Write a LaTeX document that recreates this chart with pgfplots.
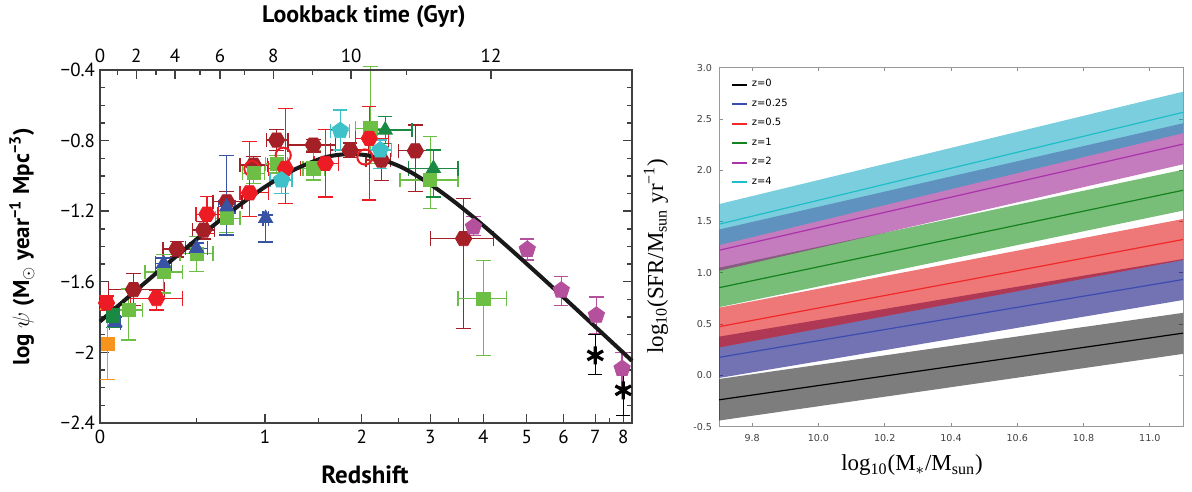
\documentclass[border=0pt]{standalone}
\usepackage{pgfplots}
\pgfplotsset{compat=1.18}
\usepackage{fontspec}
\setmainfont{PT Sans}
\newfontfamily\rsans{DejaVu Sans}
\newfontfamily\rserif{Liberation Serif}

\definecolor{dred}{HTML}{A52026}
\definecolor{mred}{HTML}{ED1C24}
\definecolor{lgreen}{HTML}{6CBE45}
\definecolor{dgreen}{HTML}{1A8943}
\definecolor{mblue}{HTML}{3953A4}
\definecolor{mcyan}{HTML}{3EC1C9}
\definecolor{mmag}{HTML}{B5509D}
\definecolor{morange}{HTML}{F7941D}
% band base colours (drawn with opacity)
\definecolor{bk}{RGB}{18,18,18}
\definecolor{bb}{RGB}{0,0,118}
\definecolor{br}{RGB}{224,9,9}
\definecolor{bg}{RGB}{9,136,9}
\definecolor{bm}{RGB}{147,16,136}
\definecolor{bc}{RGB}{15,165,195}

\pgfdeclareplotmark{hexagon*}{%
  \pgfpathmoveto{\pgfpointpolar{0}{\pgfplotmarksize}}%
  \pgfpathlineto{\pgfpointpolar{60}{\pgfplotmarksize}}%
  \pgfpathlineto{\pgfpointpolar{120}{\pgfplotmarksize}}%
  \pgfpathlineto{\pgfpointpolar{180}{\pgfplotmarksize}}%
  \pgfpathlineto{\pgfpointpolar{240}{\pgfplotmarksize}}%
  \pgfpathlineto{\pgfpointpolar{300}{\pgfplotmarksize}}%
  \pgfpathclose
  \pgfusepathqfillstroke}

\pgfplotsset{
  ebxy/.style={only marks,
    error bars/x dir=both, error bars/x explicit,
    error bars/y dir=both, error bars/y explicit,
    error bars/error bar style={line width=0.65bp},
    error bars/error mark options={rotate=90,mark size=3.6bp,line width=0.65bp}},
  eby/.style={only marks,
    error bars/y dir=both, error bars/y explicit,
    error bars/error bar style={line width=0.65bp},
    error bars/error mark options={rotate=90,mark size=3.6bp,line width=0.65bp}},
}

\begin{document}
\begin{tikzpicture}
\useasboundingbox (0,0) rectangle (596bp,246bp);

% ---------------- left panel ----------------
\begin{axis}[
  at={(50bp,34.5bp)}, anchor=south west, scale only axis,
  width=266bp, height=176.5bp,
  xmin=0, xmax=0.97, ymin=-2.4, ymax=-0.4,
  clip=false,
  xtick={0,0.30103,0.47712,0.60206,0.69897,0.77815,0.84510,0.90309,0.95424},
  xticklabels={0,1,2,3,4,5,6,7,8},
  minor xtick={0.17609,0.39794,0.54407,0.65321,0.92942},
  xtick pos=bottom,
  ytick={-2.4,-2,-1.6,-1.2,-0.8,-0.4},
  yticklabels={−2.4,−2,−1.6,−1.2,−0.8,−0.4},
  minor y tick num=3,
  tick align=inside,
  major tick length=4.5bp, minor tick length=2.5bp,
  every tick/.style={black!75, line width=0.7bp},
  axis line style={black!75, line width=0.8bp},
  tick label style={font=\fontsize{9.5}{10}\selectfont},
  yticklabel style={xshift=1bp},
  xlabel={Redshift},
  xlabel style={font=\bfseries\fontsize{12.5}{13}\selectfont, at={(axis description cs:0.498,-0.147)}, anchor=center},
  ylabel={log $\psi$ (M$_{\odot}$ year\textsuperscript{−1} Mpc\textsuperscript{−3})},
  ylabel style={font=\bfseries\fontsize{11.5}{12}\selectfont, at={(axis description cs:-0.147,0.5)}, anchor=center},
]
\addplot[ebxy, mark=hexagon*, mark size=4.1bp, color=dred] coordinates {
 (0.061,-1.644) += (0.057,0.09) -= (0.046,0.09)
 (0.140,-1.415) += (0.028,0.045) -= (0.025,0.045)
 (0.189,-1.307) += (0.02,0.05) -= (0.02,0.05)
 (0.231,-1.147) += (0.028,0.06) -= (0.025,0.07)
 (0.280,-0.939) += (0.025,0.05) -= (0.025,0.05)
 (0.322,-0.797) += (0.021,0.06) -= (0.018,0.06)
 (0.389,-0.825) += (0.040,0.03) -= (0.046,0.04)
 (0.456,-0.854) += (0.034,0.04) -= (0.036,0.04)
 (0.513,-0.910) += (0.017,0.075) -= (0.028,0.115)
 (0.575,-0.858) += (0.027,0.146) -= (0.031,0.232)
 (0.663,-1.355) += (0.054,0.227) -= (0.061,0.51)
};
\addplot[only marks, mark=o, mark size=3.8bp, mark options={line width=1bp}, color=mred] coordinates {
 (0.277,-0.959) (0.334,-0.883) (0.483,-0.893)
};
\addplot[ebxy, mark=square*, mark size=3.3bp, color=lgreen] coordinates {
 (0.052,-1.76) += (0.026,0.12) -= (0.016,0.17)
 (0.116,-1.544) += (0.035,0.10) -= (0.034,0.12)
 (0.176,-1.44) += (0.03,0.095) -= (0.03,0.10)
 (0.231,-1.24) += (0.024,0.08) -= (0.021,0.08)
 (0.280,-0.985) += (0.02,0.06) -= (0.02,0.06)
 (0.322,-0.933) += (0.02,0.05) -= (0.02,0.05)
 (0.389,-0.958) += (0.021,0.10) -= (0.019,0.066)
 (0.493,-0.731) += (0.027,0.35) -= (0.027,0.2)
 (0.602,-1.024) += (0.051,0.246) -= (0.055,0.161)
 (0.699,-1.695) += (0.042,0.217) -= (0.046,0.322)
};
\addplot[ebxy, mark=triangle*, mark size=4.1bp, color=mblue] coordinates {
 (0.027,-1.83) += (0.01,0.03) -= (0.01,0.03)
 (0.116,-1.496) += (0.015,0.03) -= (0.015,0.03)
 (0.176,-1.41) += (0.02,0.03) -= (0.02,0.03)
 (0.231,-1.175) += (0.015,0.29) -= (0.015,0.16)
 (0.302,-1.241) += (0.005,0.02) -= (0.005,0.133)
};
\addplot[ebxy, mark=square*, mark size=3.3bp, color=dgreen] coordinates {
 (0.024,-1.79) += (0.012,0.05) -= (0.012,0.07)
};
\addplot[ebxy, mark=triangle*, mark size=4.1bp, color=dgreen] coordinates {
 (0.520,-0.74) += (0.049,0.075) -= (0.027,0.076)
 (0.608,-0.958) += (0.045,0.104) -= (0.046,0.161)
};
\addplot[ebxy, mark=hexagon*, mark size=4.1bp, color=mred] coordinates {
 (0.012,-1.72) += (0.01,0.04) -= (0.01,0.04)
 (0.103,-1.695) += (0.048,0.045) -= (0.048,0.065)
 (0.195,-1.217) += (0.02,0.10) -= (0.02,0.11)
 (0.2725,-1.096) += (0.0345,0.29) -= (0.0175,0.136)
 (0.338,-0.958) += (0.027,0.34) -= (0.031,0.2)
 (0.411,-0.929) += (0.024,0.19) -= (0.021,0.19)
 (0.491,-0.787) += (0.035,0.18) -= (0.025,0.35)
};
\addplot[ebxy, mark=pentagon*, mark size=4.3bp, color=mcyan] coordinates {
 (0.331,-1.024) += (0.019,0.076) -= (0.021,0.076)
 (0.438,-0.744) += (0.017,0.117) -= (0.018,0.11)
 (0.511,-0.854) += (0.02,0.057) -= (0.02,0.104)
};
\addplot[eby, mark=pentagon*, mark size=4.3bp, color=mmag] coordinates {
 (0.681,-1.289) += (0,0.057) -= (0,0.047)
 (0.779,-1.417) += (0,0.06) -= (0,0.06)
 (0.841,-1.648) += (0,0.08) -= (0,0.085)
 (0.905,-1.79) += (0,0.104) -= (0,0.103)
 (0.952,-2.092) += (0,0.092) -= (0,0.104)
};
\addplot[eby, mark=square*, mark size=3.3bp, color=morange] coordinates {
 (0.014,-1.954) += (0,0.2) -= (0,0.2)
};
\addplot[eby, mark=asterisk, mark size=4.5bp, mark options={line width=1.6bp}, color=black] coordinates {
 (0.903,-2.017) += (0,0.12) -= (0,0.107)
 (0.954,-2.215) += (0,0.142) -= (0,0.142)
};
% Madau & Dickinson fit
\addplot[smooth, line width=2bp, color=black!90] coordinates {
 (0,-1.825) (0.05,-1.691) (0.1,-1.558) (0.15,-1.427) (0.2,-1.298)
 (0.25,-1.176) (0.3,-1.064) (0.35,-0.971) (0.4,-0.905) (0.425,-0.885)
 (0.45,-0.877) (0.475,-0.879) (0.5,-0.893) (0.55,-0.951) (0.6,-1.043)
 (0.65,-1.156) (0.7,-1.284) (0.75,-1.420) (0.8,-1.560) (0.85,-1.702)
 (0.9,-1.846) (0.95,-1.990) (0.97,-2.048)
};
\end{axis}

% top axis: lookback time
\begin{axis}[
  at={(50bp,34.5bp)}, anchor=south west, scale only axis,
  width=266bp, height=176.5bp,
  xmin=0, xmax=0.97, ymin=-2.4, ymax=-0.4,
  axis x line*=top, axis y line=none,
  xtick={0,0.066,0.137,0.219,0.316,0.458,0.713},
  xticklabels={0,2,4,6,8,10,12},
  minor xtick={0.032,0.102,0.182,0.264,0.387,0.559},
  tick align=inside,
  major tick length=4.5bp, minor tick length=2.5bp,
  every tick/.style={black!75, line width=0.7bp},
  axis line style={black!75, line width=0.8bp},
  tick label style={font=\fontsize{9.5}{10}\selectfont},
  xticklabel style={yshift=0bp},
  title={Lookback time (Gyr)},
  every axis title shift=0pt,
  title style={font=\bfseries\fontsize{12}{13}\selectfont, at={(axis description cs:0.496,1.150)}, anchor=center},
]
\addplot[draw=none] coordinates {(0.5,-1)};
\end{axis}

% ---------------- right panel ----------------
\begin{axis}[
  at={(359.5bp,32.65bp)}, anchor=south west, scale only axis,
  width=232bp, height=179.5bp,
  xmin=9.7, xmax=11.1, ymin=-0.5, ymax=3.0,
  xtick={9.8,10.0,10.2,10.4,10.6,10.8,11.0},
  xticklabels={9.8,10.0,10.2,10.4,10.6,10.8,11.0},
  ytick={-0.5,0,0.5,1,1.5,2,2.5,3},
  yticklabels={-0.5,0.0,0.5,1.0,1.5,2.0,2.5,3.0},
  tick align=inside,
  major tick length=1.8bp,
  every tick/.style={black!45, line width=0.4bp},
  axis line style={black!40, line width=0.5bp},
  tick label style={font=\rsans\fontsize{4.8}{5}\selectfont, text=black!75},
  xticklabel style={yshift=-0.5bp},
  xlabel={log\textsubscript{10}(M$_*$/M\textsubscript{sun})},
  xlabel style={font=\rserif\fontsize{11.5}{12}\selectfont, at={(axis description cs:0.416,-0.107)}, anchor=center},
  ylabel={log\textsubscript{10}(SFR/M\textsubscript{sun} yr\textsuperscript{−1})},
  ylabel style={font=\rserif\fontsize{11.5}{12}\selectfont, at={(axis description cs:-0.136,0.475)}, anchor=center},
  legend style={draw=none, fill=none, at={(axis description cs:0.02,0.985)}, anchor=north west,
    font=\rsans\fontsize{5}{5.5}\selectfont, row sep=0.6bp, inner sep=1bp},
  legend cell align=left,
  legend image code/.code={\draw[#1, line width=1.1bp] (0bp,0bp) -- (7.5bp,0bp);},
]
\addplot[forget plot, draw=none, fill=bk, fill opacity=0.55] coordinates {(9.7,-0.44) (11.1,0.21) (11.1,0.61) (9.7,-0.035)};
\addplot[forget plot, draw=none, fill=bb, fill opacity=0.55] coordinates {(9.7,-0.025) (11.1,0.735) (11.1,1.135) (9.7,0.378)};
\addplot[forget plot, draw=none, fill=br, fill opacity=0.55] coordinates {(9.7,0.272) (11.1,1.125) (11.1,1.525) (9.7,0.66)};
\addplot[forget plot, draw=none, fill=bg, fill opacity=0.55] coordinates {(9.7,0.665) (11.1,1.607) (11.1,2.005) (9.7,1.05)};
\addplot[forget plot, draw=none, fill=bm, fill opacity=0.55] coordinates {(9.7,1.02) (11.1,2.058) (11.1,2.458) (9.7,1.422)};
\addplot[forget plot, draw=none, fill=bc, fill opacity=0.55] coordinates {(9.7,1.27) (11.1,2.362) (11.1,2.766) (9.7,1.67)};
\addplot[line width=0.6bp, color=black] coordinates {(9.7,-0.238) (11.1,0.412)};
\addlegendentry{z=0}
\addplot[line width=0.6bp, color={rgb,255:red,60;green,75;blue,175}] coordinates {(9.7,0.176) (11.1,0.935)};
\addlegendentry{z=0.25}
\addplot[line width=0.6bp, color={rgb,255:red,240;green,40;blue,40}] coordinates {(9.7,0.475) (11.1,1.325)};
\addlegendentry{z=0.5}
\addplot[line width=0.6bp, color={rgb,255:red,20;green,130;blue,30}] coordinates {(9.7,0.855) (11.1,1.805)};
\addlegendentry{z=1}
\addplot[line width=0.6bp, color={rgb,255:red,170;green,50;blue,170}] coordinates {(9.7,1.22) (11.1,2.255)};
\addlegendentry{z=2}
\addplot[line width=0.6bp, color={rgb,255:red,30;green,190;blue,200}] coordinates {(9.7,1.474) (11.1,2.565)};
\addlegendentry{z=4}
\end{axis}
\end{tikzpicture}
\end{document}
